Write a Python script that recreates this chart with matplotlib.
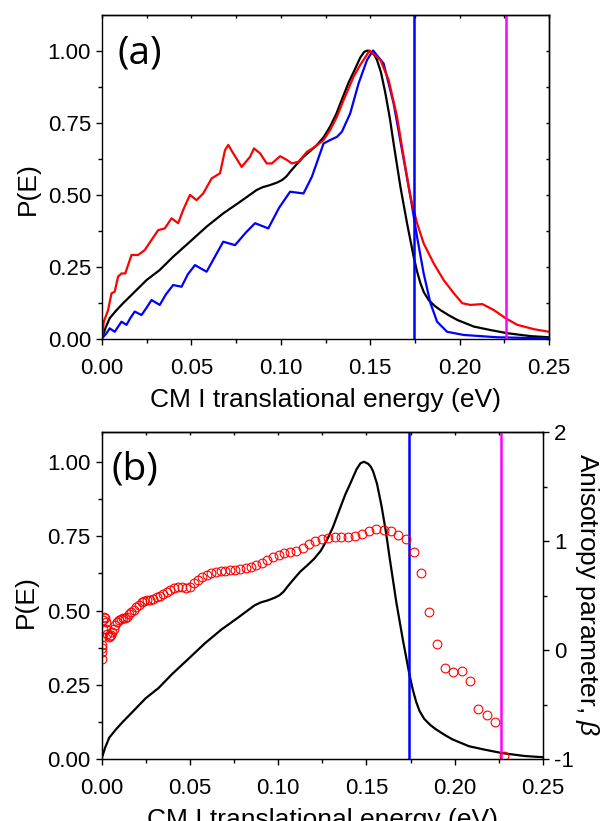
import matplotlib
matplotlib.use("Agg")
import matplotlib.pyplot as plt
from matplotlib.ticker import MultipleLocator

plt.rcParams['font.family'] = ['Liberation Sans', 'DejaVu Sans']
plt.rcParams['mathtext.fontset'] = 'custom'
plt.rcParams['mathtext.it'] = 'Liberation Sans:italic'
plt.rcParams['mathtext.rm'] = 'Liberation Sans'

# ---------------- data ----------------
E_black = [0, 0.002, 0.0043, 0.008, 0.0118, 0.0174, 0.0249, 0.0323, 0.0398, 0.0492,
           0.0585, 0.0678, 0.0772, 0.0865, 0.09, 0.094, 0.098, 0.1006, 0.103, 0.1052,
           0.109, 0.1127, 0.1165, 0.1202, 0.124, 0.1276, 0.131, 0.1351, 0.138, 0.1407,
           0.1444, 0.1466, 0.1486, 0.151, 0.1525, 0.1538, 0.156, 0.1585, 0.161, 0.1631,
           0.1669, 0.1706, 0.1743, 0.1762, 0.1781, 0.18, 0.1827, 0.186, 0.1893, 0.194,
           0.1987, 0.208, 0.2173, 0.2267, 0.2397, 0.25]
P_black = [0.003, 0.04, 0.073, 0.10, 0.125, 0.159, 0.205, 0.24, 0.286, 0.338,
           0.39, 0.436, 0.476, 0.517, 0.527, 0.534, 0.543, 0.551, 0.563, 0.58,
           0.607, 0.632, 0.652, 0.673, 0.70, 0.737, 0.78, 0.845, 0.89, 0.925,
           0.975, 0.995, 1.0, 0.993, 0.983, 0.967, 0.925, 0.852, 0.765, 0.678,
           0.528, 0.402, 0.286, 0.235, 0.194, 0.163, 0.136, 0.116, 0.101, 0.083,
           0.067, 0.044, 0.032, 0.021, 0.011, 0.007]

E_red = [0, 0.001, 0.0034, 0.0053, 0.0071, 0.009, 0.0109, 0.013, 0.0165, 0.0202,
         0.0239, 0.0277, 0.0314, 0.0351, 0.0389, 0.0426, 0.0454, 0.0492, 0.0529, 0.0566,
         0.0613, 0.066, 0.0688, 0.0706, 0.0734, 0.0781, 0.0828, 0.085, 0.0884, 0.0921,
         0.095, 0.0996, 0.1034, 0.1062, 0.1099, 0.1146, 0.1192, 0.1239, 0.1276, 0.1314,
         0.1351, 0.1407, 0.1444, 0.1497, 0.1557, 0.1603, 0.165, 0.1687, 0.1725, 0.1762,
         0.1799, 0.1855, 0.1911, 0.1968, 0.2015, 0.2061, 0.2127, 0.2192, 0.2257, 0.2323,
         0.2416, 0.25]
P_red = [0.003, 0.061, 0.101, 0.159, 0.165, 0.217, 0.228, 0.228, 0.292, 0.292,
         0.309, 0.344, 0.378, 0.384, 0.419, 0.402, 0.448, 0.50, 0.482, 0.505,
         0.557, 0.575, 0.655, 0.673, 0.644, 0.597, 0.632, 0.661, 0.644, 0.609,
         0.609, 0.634, 0.621, 0.609, 0.615, 0.649, 0.667, 0.69, 0.725, 0.771,
         0.828, 0.909, 0.95, 1.0, 0.967, 0.898, 0.771, 0.632, 0.494, 0.402,
         0.332, 0.263, 0.205, 0.159, 0.125, 0.119, 0.122, 0.101, 0.073, 0.05,
         0.035, 0.026]

E_blue = [0, 0.0025, 0.0043, 0.0071, 0.0109, 0.0137, 0.016, 0.0183, 0.0221, 0.025,
          0.0277, 0.0323, 0.0357, 0.0398, 0.0445, 0.048, 0.052, 0.0585, 0.0635, 0.0678,
          0.0744, 0.0805, 0.0856, 0.093, 0.099, 0.1052, 0.1127, 0.1174, 0.1239, 0.1276,
          0.1314, 0.1342, 0.1388, 0.1435, 0.1482, 0.1516, 0.1575, 0.1631, 0.1678, 0.1725,
          0.1762, 0.1799, 0.1837, 0.1874, 0.193, 0.2024, 0.2211, 0.25]
P_blue = [0.003, 0.021, 0.038, 0.026, 0.061, 0.05, 0.075, 0.096, 0.084, 0.11,
          0.136, 0.119, 0.155, 0.188, 0.182, 0.225, 0.257, 0.234, 0.29, 0.338,
          0.326, 0.37, 0.402, 0.384, 0.455, 0.511, 0.505, 0.563, 0.678, 0.69,
          0.701, 0.719, 0.782, 0.886, 0.967, 1.0, 0.955, 0.817, 0.655, 0.494,
          0.355, 0.228, 0.125, 0.061, 0.026, 0.015, 0.007, 0.003]

E_beta = [0.0, 0.00003, 0.00011, 0.00024, 0.00043, 0.00067, 0.00097, 0.00132, 0.00172, 0.00218,
          0.00269, 0.00326, 0.00388, 0.00455, 0.00528, 0.00606, 0.0069, 0.00778, 0.00873, 0.00972,
          0.01077, 0.01188, 0.01304, 0.01425, 0.01552, 0.01684, 0.01821, 0.01964, 0.02112, 0.02265,
          0.02424, 0.02589, 0.02758, 0.02933, 0.03114, 0.033, 0.03491, 0.03688, 0.0389, 0.04097,
          0.0431, 0.04528, 0.04752, 0.04981, 0.05215, 0.05455, 0.057, 0.0595, 0.06206, 0.06467,
          0.06734, 0.07006, 0.07283, 0.07566, 0.07855, 0.08148, 0.08447, 0.08752, 0.09061, 0.09376,
          0.09697, 0.10023, 0.10354, 0.10691, 0.11033, 0.1138, 0.11733, 0.12092, 0.12455, 0.12824,
          0.13199, 0.13579, 0.13964, 0.14354, 0.1475, 0.15151, 0.15558, 0.1597, 0.16388, 0.16811,
          0.17239, 0.17673, 0.18112, 0.18556, 0.19006, 0.19461, 0.19922, 0.20388, 0.20859, 0.21336,
          0.21818, 0.22306, 0.22799]
beta = [-0.08, -0.02, 0.05, 0.02, 0.12, 0.20, 0.28, 0.31, 0.30, 0.26,
        0.20, 0.15, 0.12, 0.13, 0.14, 0.17, 0.20, 0.23, 0.26, 0.28,
        0.29, 0.30, 0.30, 0.31, 0.33, 0.35, 0.37, 0.40, 0.42, 0.44,
        0.45, 0.46, 0.465, 0.475, 0.485, 0.50, 0.52, 0.535, 0.553, 0.568,
        0.58, 0.583, 0.575, 0.585, 0.615, 0.645, 0.675, 0.695, 0.71, 0.72,
        0.726, 0.73, 0.733, 0.738, 0.745, 0.752, 0.763, 0.78, 0.80, 0.825,
        0.855, 0.875, 0.892, 0.905, 0.915, 0.94, 0.975, 1.003, 1.022, 1.03,
        1.036, 1.037, 1.036, 1.045, 1.07, 1.095, 1.11, 1.108, 1.09, 1.06,
        1.025, 0.905, 0.71, 0.35, 0.055, -0.16, -0.20, -0.19, -0.285, -0.54,
        -0.59, -0.66, -0.97]

E_blue_line = 0.1743
E_magenta_line = 0.2262

xticks = [0.00, 0.05, 0.10, 0.15, 0.20, 0.25]
yticks = [0.00, 0.25, 0.50, 0.75, 1.00]
beta_ticks = [-1, 0, 1, 2]

# ---------------- figure ----------------
W, H = 603, 821
fig = plt.figure(figsize=(W / 100, H / 100), dpi=100)

def frac(l, r, t, b):
    return [l / W, 1 - b / H, (r - l) / W, (b - t) / H]

axa = fig.add_axes(frac(102, 549, 14.7, 339.3))
axb = fig.add_axes(frac(101.7, 543, 432.3, 759.3))

lw = 1.6
FS_TICK = 16
FS_LAB = 19
MAJ, MIN = 4.3, 2.6

def style(ax, mirror_right=True):
    ax.set_xlim(0, 0.25)
    ax.set_xticks(xticks)
    ax.set_xticklabels([f"{v:.2f}" for v in xticks])
    ax.set_yticks(yticks)
    ax.set_yticklabels([f"{v:.2f}" for v in yticks])
    ax.xaxis.set_minor_locator(MultipleLocator(0.025))
    ax.yaxis.set_minor_locator(MultipleLocator(0.125))
    ax.tick_params(which='both', direction='out', labelsize=FS_TICK, width=1.0,
                   top=False, right=False)
    ax.tick_params(axis='x', which='major', pad=9.5)
    ax.tick_params(axis='y', which='major', pad=3.6)
    ax.tick_params(which='major', length=MAJ)
    ax.tick_params(which='minor', length=MIN)
    for s in ax.spines.values():
        s.set_linewidth(1.0)
    # mirrored inward ticks on the top (and right) frame
    top = ax.secondary_xaxis('top')
    top.set_xticks(xticks)
    top.xaxis.set_minor_locator(MultipleLocator(0.025))
    top.tick_params(which='both', direction='in', length=2.2, width=1.0,
                    labeltop=False)
    top.spines['top'].set_linewidth(1.0)
    if mirror_right:
        rt = ax.secondary_yaxis('right')
        rt.set_yticks(yticks)
        rt.yaxis.set_minor_locator(MultipleLocator(0.125))
        rt.tick_params(which='both', direction='in', length=2.2, width=1.0,
                       labelright=False)
        rt.spines['right'].set_linewidth(1.0)

# panel (a)
axa.plot(E_black, P_black, color='black', lw=lw)
axa.plot(E_blue, P_blue, color='#0000ff', lw=lw)
axa.plot(E_red, P_red, color='#ff0000', lw=lw)
axa.axvline(E_blue_line, color='#0000ff', lw=1.8)
axa.axvline(E_magenta_line, color='#ff00ff', lw=1.8)
axa.set_ylim(0, 1.124)
style(axa)
axa.set_ylabel('P(E)', fontsize=FS_LAB)
axa.yaxis.set_label_coords(-0.139, 0.463)
axa.set_xlabel('CM I translational energy (eV)', fontsize=FS_LAB)
axa.xaxis.set_label_coords(0.5, -0.151)
axa.text(0.034, 0.88, '(a)', transform=axa.transAxes, fontsize=28,
         family='Open Sans', va='center', ha='left')

# panel (b)
axb.plot(E_black, P_black, color='black', lw=lw)
axb.axvline(E_blue_line, color='#0000ff', lw=1.8)
axb.axvline(E_magenta_line, color='#ff00ff', lw=1.8)
axb.set_ylim(0, 1.099)
style(axb, mirror_right=False)
axb.set_ylabel('P(E)', fontsize=FS_LAB)
axb.yaxis.set_label_coords(-0.144, 0.482)
axb.set_xlabel('CM I translational energy (eV)', fontsize=FS_LAB)
axb.xaxis.set_label_coords(0.5, -0.150)
axb.text(0.022, 0.885, '(b)', transform=axb.transAxes, fontsize=28,
         family='Open Sans', va='center', ha='left')

axr = axb.twinx()
axr.plot(E_beta, beta, linestyle='none', marker='o', markersize=6.3,
         markerfacecolor='none', markeredgecolor='#ff0000', markeredgewidth=0.8)
axr.set_ylim(-1, 2)
axr.set_yticks(beta_ticks)
axr.set_yticklabels(['-1', '0', '1', '2'])
axr.yaxis.set_minor_locator(MultipleLocator(0.5))
axr.tick_params(which='both', direction='out', labelsize=FS_TICK, pad=3.6, width=1.0)
axr.tick_params(which='major', length=MAJ)
axr.tick_params(which='minor', length=MIN)
axr.set_ylabel(r'Anisotropy parameter, $\beta$', fontsize=FS_LAB, rotation=270,
               va='bottom')
axr.yaxis.set_label_coords(1.067, 0.505)

fig.savefig('out.png', dpi=100)
